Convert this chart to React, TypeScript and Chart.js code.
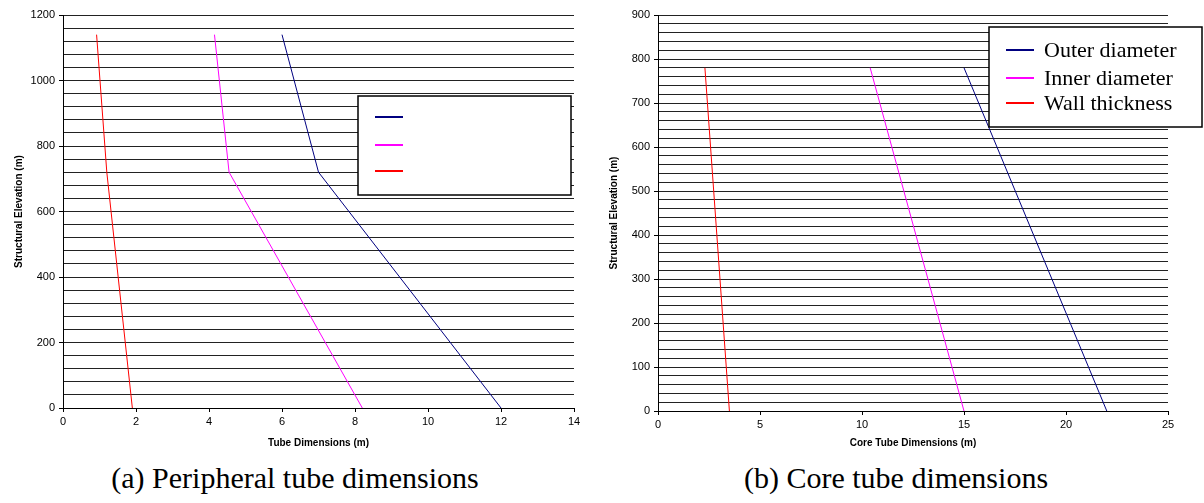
import React, { useEffect, useRef } from 'react';
import { Chart, registerables } from 'chart.js';

Chart.register(...registerables);

// ---- data ----
const seriesNames = ['Outer diameter', 'Inner diameter', 'Wall thickness'];
const seriesColors = ['#000080', '#FF00FF', '#FF0000'];

// (a) Peripheral tube
const periElevation = [0, 720, 1140];
const periOuter = [12, 7, 6];
const periInner = [8.2, 4.55, 4.15];
const periWall = [1.9, 1.2, 0.92];

// (b) Core tube
const coreElevation = [0, 780];
const coreOuter = [22, 15];
const coreInner = [15, 10.4];
const coreWall = [3.5, 2.3];

const periCaption = '(a) Peripheral tube dimensions';
const coreCaption = '(b) Core tube dimensions';

const SANS = '"Liberation Sans", Arial, sans-serif';
const SERIF = '"Liberation Serif", "Times New Roman", serif';

const boxLegend = {
  id: 'boxLegend',
  afterDraw(chart: any, _args: any, opts: any) {
    if (!opts || !opts.show) return;
    const ctx = chart.ctx;
    const { x, y, w, h, rowY, lineX, lineLen, textX, showText, font } = opts;
    ctx.save();
    ctx.fillStyle = '#ffffff';
    ctx.fillRect(x, y, w, h);
    ctx.strokeStyle = '#000000';
    ctx.lineWidth = 1.5;
    ctx.strokeRect(x, y, w, h);
    chart.data.datasets.forEach((ds: any, i: number) => {
      const ry = y + rowY[i];
      ctx.strokeStyle = ds.borderColor;
      ctx.lineWidth = 2;
      ctx.beginPath();
      ctx.moveTo(x + lineX, ry);
      ctx.lineTo(x + lineX + lineLen, ry);
      ctx.stroke();
      if (showText) {
        ctx.fillStyle = '#000';
        ctx.font = font;
        ctx.textBaseline = 'middle';
        ctx.textAlign = 'left';
        ctx.fillText(ds.label, x + textX, ry + 1);
      }
    });
    ctx.restore();
  },
};

function makeDatasets(elev: number[], series: number[][]) {
  return series.map((vals, i) => ({
    label: seriesNames[i],
    data: vals.map((v, j) => ({ x: v, y: elev[j] })),
    borderColor: seriesColors[i],
    backgroundColor: seriesColors[i],
    borderWidth: 1,
    pointRadius: 0,
    showLine: true,
    tension: 0,
  }));
}

function makeConfig(p: {
  elev: number[];
  series: number[][];
  xMax: number;
  xStep: number;
  yMax: number;
  yStep: number;
  yLabelStep: number;
  xTitle: string;
  yAxisWidth: number;
  xAxisHeight: number;
  padRight: number;
  yTitlePad: number;
  legend: any;
}) {
  return {
    type: 'scatter' as const,
    data: { datasets: makeDatasets(p.elev, p.series) },
    plugins: [boxLegend],
    options: {
      responsive: false,
      animation: false,
      layout: { padding: { left: 0, top: 15, right: p.padRight, bottom: 0 } },
      plugins: {
        legend: { display: false },
        tooltip: { enabled: false },
        boxLegend: p.legend,
      },
      scales: {
        x: {
          type: 'linear',
          position: 'bottom',
          min: 0,
          max: p.xMax,
          afterFit: (s: any) => {
            s.height = p.xAxisHeight;
          },
          ticks: {
            stepSize: p.xStep,
            autoSkip: false,
            maxRotation: 0,
            padding: 3,
            color: '#000',
            font: { family: SANS, size: 11 },
          },
          grid: {
            display: true,
            drawOnChartArea: false,
            drawTicks: true,
            tickLength: 4,
            tickColor: '#000',
          },
          border: { display: true, color: '#000', width: 1 },
          title: {
            display: true,
            text: p.xTitle,
            color: '#000',
            font: { family: SANS, size: 10, weight: 'bold' },
            padding: { top: 0, bottom: 11 },
          },
        },
        y: {
          type: 'linear',
          min: 0,
          max: p.yMax,
          afterFit: (s: any) => {
            s.width = p.yAxisWidth;
          },
          ticks: {
            stepSize: p.yStep,
            autoSkip: false,
            padding: 4,
            color: '#000',
            font: { family: SANS, size: 11 },
            callback: (v: any) => (Math.round(v) % p.yLabelStep === 0 ? String(Math.round(v)) : ''),
          },
          grid: {
            display: true,
            drawOnChartArea: true,
            drawTicks: true,
            tickLength: 4,
            color: '#222',
            lineWidth: 1,
            tickColor: (c: any) =>
              c.tick && Math.round(c.tick.value) % p.yLabelStep === 0 ? '#000' : 'rgba(0,0,0,0)',
          },
          border: { display: true, color: '#000', width: 1 },
          title: {
            display: true,
            text: 'Structural Elevation (m)',
            color: '#000',
            font: { family: SANS, size: 10, weight: 'bold' },
            padding: { top: p.yTitlePad, bottom: 0 },
          },
        },
      },
    },
  };
}

function ChartCanvas({ config, width, height }: { config: any; width: number; height: number }) {
  const ref = useRef<HTMLCanvasElement | null>(null);
  useEffect(() => {
    if (!ref.current) return;
    const chart = new Chart(ref.current, config);
    return () => chart.destroy();
  }, [config]);
  return <canvas ref={ref} width={width} height={height} style={{ display: 'block', width, height }} />;
}

const periConfig = makeConfig({
  elev: periElevation,
  series: [periOuter, periInner, periWall],
  xMax: 14,
  xStep: 2,
  yMax: 1200,
  yStep: 40,
  yLabelStep: 200,
  xTitle: 'Tube Dimensions (m)',
  yAxisWidth: 63,
  xAxisHeight: 52,
  padRight: 26,
  yTitlePad: 13,
  legend: {
    show: true,
    x: 358,
    y: 96,
    w: 213,
    h: 99,
    rowY: [21, 49, 75],
    lineX: 17,
    lineLen: 28,
    textX: 55,
    showText: false,
    font: `22px ${SERIF}`,
  },
});

const coreConfig = makeConfig({
  elev: coreElevation,
  series: [coreOuter, coreInner, coreWall],
  xMax: 25,
  xStep: 5,
  yMax: 900,
  yStep: 20,
  yLabelStep: 100,
  xTitle: 'Core Tube Dimensions (m)',
  yAxisWidth: 58,
  xAxisHeight: 49,
  padRight: 36,
  yTitlePad: 8,
  legend: {
    show: true,
    x: 389,
    y: 27,
    w: 213,
    h: 100,
    rowY: [23, 51, 76],
    lineX: 17,
    lineLen: 28,
    textX: 55,
    showText: true,
    font: `22px ${SERIF}`,
  },
});

const captionStyle = {
  position: 'absolute' as const,
  top: 460,
  textAlign: 'center' as const,
  fontFamily: SERIF,
  fontSize: 30,
  lineHeight: '36px',
  color: '#000',
  whiteSpace: 'nowrap' as const,
};

export default function App() {
  return (
    <div style={{ position: 'absolute', left: 0, top: 0, width: 1204, height: 503, background: '#fff', overflow: 'hidden' }}>
      <div style={{ position: 'absolute', left: 0, top: 0, width: 600, height: 460 }}>
        <ChartCanvas config={periConfig} width={600} height={460} />
      </div>
      <div style={{ position: 'absolute', left: 600, top: 0, width: 604, height: 460 }}>
        <ChartCanvas config={coreConfig} width={604} height={460} />
      </div>
      <div style={{ ...captionStyle, left: 0, width: 590 }}>{periCaption}</div>
      <div style={{ ...captionStyle, left: 600, width: 592 }}>{coreCaption}</div>
    </div>
  );
}
